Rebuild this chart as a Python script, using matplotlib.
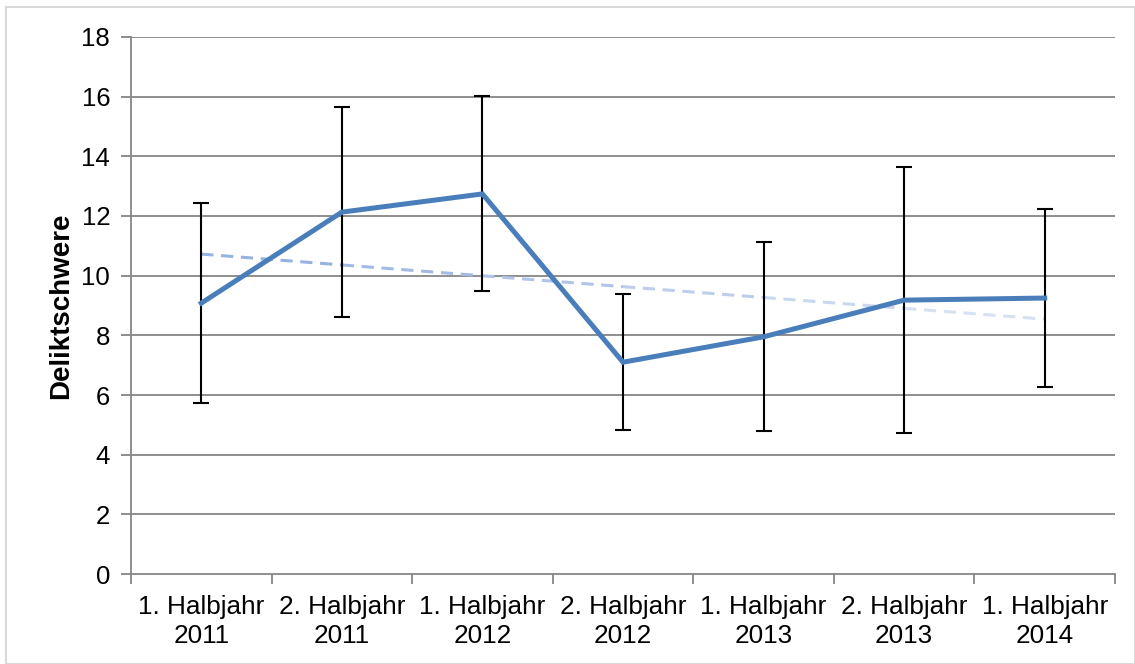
import matplotlib
matplotlib.use("Agg")
import matplotlib.pyplot as plt
import numpy as np
from matplotlib.patches import Rectangle
from matplotlib.colors import to_rgb

categories = ["1. Halbjahr\n2011", "2. Halbjahr\n2011", "1. Halbjahr\n2012",
              "2. Halbjahr\n2012", "1. Halbjahr\n2013", "2. Halbjahr\n2013",
              "1. Halbjahr\n2014"]
values = [9.08, 12.13, 12.74, 7.10, 7.95, 9.18, 9.25]
errors = [3.36, 3.53, 3.27, 2.28, 3.17, 4.45, 2.98]
y_label = "Deliktschwere"
y_ticks = list(range(0, 19, 2))

plt.rcParams['font.family'] = ['Liberation Sans', 'DejaVu Sans']

fig = plt.figure(figsize=(11.35, 6.64), dpi=100)
ax = fig.add_axes([0.1154, 0.1355, 0.867, 0.8088])

x = np.arange(1, len(values) + 1)
grid_c = "#868686"

for t in y_ticks[1:]:
    ax.axhline(t, color=grid_c, lw=1.3, zorder=1)

# trend line (linear fit) with colour fade
coef = np.polyfit(x, values, 1)
c0 = np.array(to_rgb("#8FADDE"))
c1 = np.array(to_rgb("#DDE6F4"))
n = len(x) - 1
for i in range(n):
    xs = np.array([x[i], x[i + 1]])
    ys = np.polyval(coef, xs)
    col = c0 + (c1 - c0) * (i + 0.5) / n
    ax.plot(xs, ys, color=col, lw=2.2, ls=(0, (4, 2.5)), zorder=2,
            solid_capstyle='butt', dash_capstyle='butt')

ax.errorbar(x, values, yerr=errors, fmt='none', ecolor='black',
            elinewidth=1.5, capsize=6, capthick=1.5, zorder=3)
ax.plot(x, values, color="#4A7EBB", lw=3.6, zorder=4, solid_joinstyle='miter')

ax.set_xlim(0.5, len(values) + 0.5)
ax.set_ylim(0, 18)
ax.set_yticks(y_ticks)
ax.set_yticklabels([str(t) for t in y_ticks], fontsize=18.5)
ax.set_xticks(np.arange(0.5, len(values) + 1, 1.0))
ax.set_xticklabels([])
ax.set_xticks(x, minor=True)
ax.set_xticklabels(categories, minor=True, fontsize=18.8, linespacing=1.25)
ax.tick_params(axis='x', which='minor', length=0, pad=15)
ax.tick_params(axis='x', which='major', length=7, width=1.3, color=grid_c, direction='out')
ax.tick_params(axis='y', length=7, width=1.3, color=grid_c, direction='out', pad=8)

for s in ['top', 'right']:
    ax.spines[s].set_visible(False)
for s in ['left', 'bottom']:
    ax.spines[s].set_color(grid_c)
    ax.spines[s].set_linewidth(1.3)

ax.set_ylabel(y_label, fontsize=20, fontweight='bold', labelpad=5)

fig.patches.append(Rectangle((6 / 1135, 0.0), 1 - 6 / 1135, 1 - 7 / 664,
                             transform=fig.transFigure, fill=False,
                             edgecolor="#D9D9D9", lw=1.5))

fig.savefig("out.png", dpi=100)
